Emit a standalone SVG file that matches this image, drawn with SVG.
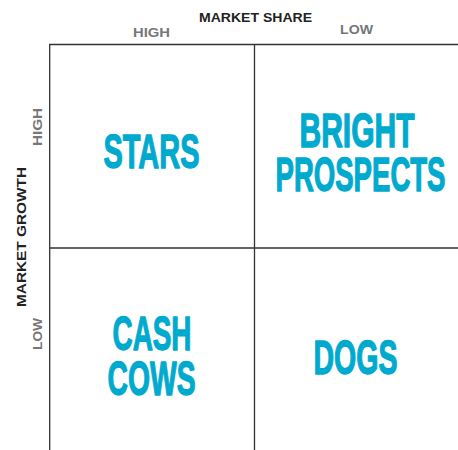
<svg xmlns="http://www.w3.org/2000/svg" width="458" height="450" viewBox="0 0 458 450">
<style>
.big{font-family:"Liberation Sans",Arial,sans-serif;font-weight:bold;font-size:49px;fill:#00AACF;stroke:#00AACF;stroke-width:1.4;stroke-linejoin:round;text-anchor:middle}
.axis{font-family:"Liberation Sans",Arial,sans-serif;font-weight:bold;font-size:12.5px;fill:#222;text-anchor:middle}
.lvl{font-family:"Liberation Sans",Arial,sans-serif;font-weight:bold;font-size:13px;fill:#777;text-anchor:middle}
.grid{stroke:#333;stroke-width:1.3;fill:none}
</style>
<rect width="458" height="450" fill="#fff"/>
<g id="grid">
<path class="grid" d="M49.7,450 V44.5 H458 M254.5,44.5 V450 M49.7,248 H458"/>
</g>
<g id="labels">
<text class="axis" x="255.5" y="21.5" textLength="113" lengthAdjust="spacingAndGlyphs">MARKET SHARE</text>
<text class="lvl" x="151.5" y="37" textLength="37" lengthAdjust="spacingAndGlyphs">HIGH</text>
<text class="lvl" x="356.5" y="34" textLength="33" lengthAdjust="spacingAndGlyphs">LOW</text>
<text class="axis" transform="translate(26,237) rotate(-90)" textLength="140" lengthAdjust="spacingAndGlyphs">MARKET GROWTH</text>
<text class="lvl" transform="translate(42,127) rotate(-90)" textLength="38" lengthAdjust="spacingAndGlyphs">HIGH</text>
<text class="lvl" transform="translate(42,334) rotate(-90)" textLength="32" lengthAdjust="spacingAndGlyphs">LOW</text>
</g>
<g id="stars"><text class="big" x="151.5" y="167.5" textLength="96" lengthAdjust="spacingAndGlyphs">STARS</text></g>
<g id="bright-prospects">
<text class="big" x="357" y="146.5" textLength="115" lengthAdjust="spacingAndGlyphs">BRIGHT</text>
<text class="big" x="360.5" y="190.5" textLength="170" lengthAdjust="spacingAndGlyphs">PROSPECTS</text>
</g>
<g id="cash-cows">
<text class="big" x="152" y="349.5" textLength="79" lengthAdjust="spacingAndGlyphs">CASH</text>
<text class="big" x="151.5" y="394.5" textLength="88" lengthAdjust="spacingAndGlyphs">COWS</text>
</g>
<g id="dogs"><text class="big" x="355.5" y="373.5" textLength="84" lengthAdjust="spacingAndGlyphs">DOGS</text></g>
</svg>
